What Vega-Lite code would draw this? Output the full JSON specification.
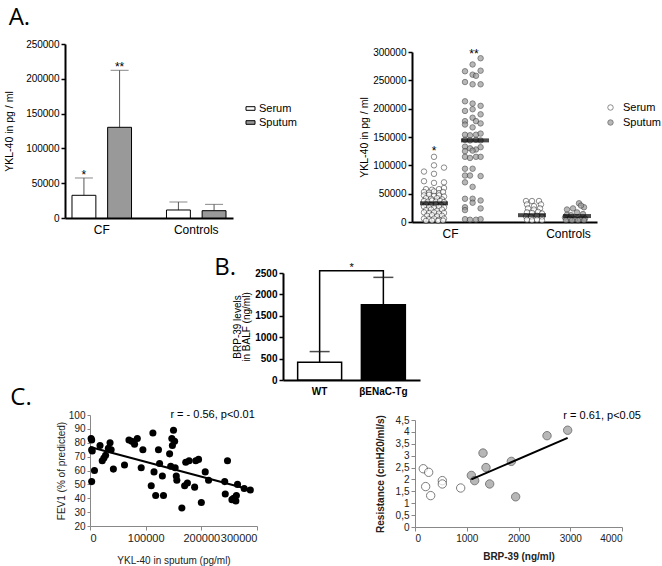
{
"$schema":"https://vega.github.io/schema/vega-lite/v6.json",
"padding":{"left":4,"top":6,"right":3,"bottom":2},
"background":"white",
"config":{"view":{"stroke":null},"font":"Liberation Sans","axis":{"grid":false,"labelOverlap":false,"tickCount":30,"labelFont":"Liberation Sans","titleFont":"Liberation Sans","titleFontWeight":"normal","labelColor":"black","titleColor":"black"},"legend":{"labelFont":"Liberation Sans"},"title":{"font":"Open Sans","fontWeight":"normal","fontSize":24,"anchor":"start","frame":"bounds","color":"black"}},
"spacing":17,
"align":"none",
"resolve":{"scale":{"fill":"independent"},"legend":{"fill":"independent"}},
"vconcat":[
{"hconcat":[
 {"title":{"text":"A.","offset":9,"dx":4},
  "width":168,"height":174,
  "data":{"values":[
   {"group":"CF","sample":"Serum","mean":32600,"upper":57500,"sig":"*"},
   {"group":"CF","sample":"Sputum","mean":130300,"upper":212200,"sig":"**"},
   {"group":"Controls","sample":"Serum","mean":11500,"upper":23000,"sig":""},
   {"group":"Controls","sample":"Sputum","mean":10500,"upper":19600,"sig":""}]},
  "encoding":{
   "x":{"field":"group","type":"nominal","sort":["CF","Controls"],"scale":{"paddingInner":0.37,"paddingOuter":0.074},"axis":{"title":null,"labelAngle":0,"ticks":false,"labelFontSize":12,"labelPadding":6,"domainColor":"black","domainWidth":2}},
   "xOffset":{"field":"sample","type":"nominal","sort":["Serum","Sputum"],"scale":{"paddingInner":0.33,"paddingOuter":0}}},
  "layer":[
   {"mark":{"type":"rule","color":"#555","strokeWidth":1},
    "encoding":{"y":{"field":"mean","type":"quantitative","scale":{"domain":[0,250000],"nice":false},"axis":{"title":"YKL-40 in pg / ml","titleFontSize":10.5,"titlePadding":11,"values":[0,50000,100000,150000,200000,250000],"tickCount":30,"format":"d","labelOverlap":false,"labelFontSize":10,"tickSize":4,"tickColor":"black","tickWidth":1.5,"domainColor":"black","domainWidth":2}},"y2":{"field":"upper"}}},
   {"mark":{"type":"tick","orient":"horizontal","color":"#555","thickness":1,"size":18},
    "encoding":{"y":{"field":"upper","type":"quantitative"}}},
   {"mark":{"type":"bar","stroke":"black","strokeWidth":1},
    "encoding":{"y":{"field":"mean","type":"quantitative"},
     "fill":{"field":"sample","type":"nominal","scale":{"domain":["Serum","Sputum"],"range":["white","#999999"]},
      "legend":{"title":null,"orient":"none","legendX":180,"legendY":59,"symbolType":"M-1,-0.4H1V0.4H-1Z","symbolSize":81,"symbolStrokeColor":"black","symbolStrokeWidth":1,"labelFontSize":11,"labelColor":"black","rowPadding":2,"labelOffset":3}}}},
   {"mark":{"type":"text","baseline":"alphabetic","dy":1,"fontSize":12,"color":"black"},
    "encoding":{"y":{"field":"upper","type":"quantitative"},"text":{"field":"sig"}}}
  ]},
 {"vconcat":[
  {"width":1,"height":1,"data":{"values":[]},"mark":"point"},
  {"width":185,"height":170,
  "layer":[
   {"data":{"values":[
    {"series":"Serum","xp":1.1,"v":115000},{"series":"Serum","xp":0.6,"v":89000},{"series":"Serum","xp":1.1,"v":100000},{"series":"Serum","xp":1.6,"v":96000},{"series":"Serum","xp":1.1,"v":85000},{"series":"Serum","xp":0.6,"v":72000},{"series":"Serum","xp":1.1,"v":69000},{"series":"Serum","xp":1.6,"v":70000},
    {"series":"Serum","xp":0.7,"v":58000},{"series":"Serum","xp":1.0,"v":57000},{"series":"Serum","xp":1.35,"v":58000},{"series":"Serum","xp":1.6,"v":60000},{"series":"Serum","xp":0.6,"v":53000},{"series":"Serum","xp":0.85,"v":52000},{"series":"Serum","xp":1.1,"v":54000},{"series":"Serum","xp":1.35,"v":51000},{"series":"Serum","xp":1.55,"v":53000},
    {"series":"Serum","xp":0.6,"v":47000},{"series":"Serum","xp":0.85,"v":48000},{"series":"Serum","xp":1.1,"v":46000},{"series":"Serum","xp":1.35,"v":47000},{"series":"Serum","xp":1.6,"v":45000},{"series":"Serum","xp":0.7,"v":42000},{"series":"Serum","xp":0.95,"v":41000},{"series":"Serum","xp":1.25,"v":42000},{"series":"Serum","xp":1.5,"v":40000},
    {"series":"Serum","xp":0.6,"v":37000},{"series":"Serum","xp":0.8,"v":36000},{"series":"Serum","xp":1.0,"v":38000},{"series":"Serum","xp":1.2,"v":36000},{"series":"Serum","xp":1.4,"v":37000},{"series":"Serum","xp":1.6,"v":35000},{"series":"Serum","xp":0.7,"v":31000},{"series":"Serum","xp":0.95,"v":30000},{"series":"Serum","xp":1.2,"v":31000},{"series":"Serum","xp":1.45,"v":30000},
    {"series":"Serum","xp":0.6,"v":27000},{"series":"Serum","xp":0.85,"v":26000},{"series":"Serum","xp":1.1,"v":25000},{"series":"Serum","xp":1.35,"v":27000},{"series":"Serum","xp":1.6,"v":26000},{"series":"Serum","xp":0.7,"v":21000},{"series":"Serum","xp":0.95,"v":22000},{"series":"Serum","xp":1.25,"v":20000},{"series":"Serum","xp":1.5,"v":22000},
    {"series":"Serum","xp":0.6,"v":17000},{"series":"Serum","xp":0.85,"v":16000},{"series":"Serum","xp":1.1,"v":17000},{"series":"Serum","xp":1.35,"v":15000},{"series":"Serum","xp":1.6,"v":16000},{"series":"Serum","xp":0.75,"v":11000},{"series":"Serum","xp":1.0,"v":12000},{"series":"Serum","xp":1.25,"v":10000},{"series":"Serum","xp":1.5,"v":11000},
    {"series":"Serum","xp":0.6,"v":6000},{"series":"Serum","xp":0.85,"v":5000},{"series":"Serum","xp":1.1,"v":6000},{"series":"Serum","xp":1.35,"v":4000},{"series":"Serum","xp":1.6,"v":6000},{"series":"Serum","xp":0.7,"v":2000},{"series":"Serum","xp":1.0,"v":2500},{"series":"Serum","xp":1.3,"v":2000},{"series":"Serum","xp":1.55,"v":2500},
    {"series":"Sputum","xp":3.43,"v":289000},{"series":"Sputum","xp":3.03,"v":278000},{"series":"Sputum","xp":2.65,"v":266000},{"series":"Sputum","xp":3.43,"v":267000},{"series":"Sputum","xp":3.03,"v":260000},{"series":"Sputum","xp":3.2,"v":258000},{"series":"Sputum","xp":2.65,"v":247000},{"series":"Sputum","xp":3.03,"v":243000},{"series":"Sputum","xp":3.43,"v":243000},
    {"series":"Sputum","xp":2.65,"v":213000},{"series":"Sputum","xp":3.03,"v":209000},{"series":"Sputum","xp":3.43,"v":205000},{"series":"Sputum","xp":2.65,"v":196000},{"series":"Sputum","xp":3.03,"v":199000},{"series":"Sputum","xp":3.43,"v":190000},{"series":"Sputum","xp":3.03,"v":184000},{"series":"Sputum","xp":2.65,"v":178000},{"series":"Sputum","xp":2.65,"v":172000},{"series":"Sputum","xp":3.2,"v":178000},{"series":"Sputum","xp":3.43,"v":174000},{"series":"Sputum","xp":3.03,"v":167000},
    {"series":"Sputum","xp":2.65,"v":154000},{"series":"Sputum","xp":2.9,"v":153000},{"series":"Sputum","xp":3.2,"v":154000},{"series":"Sputum","xp":3.43,"v":156000},{"series":"Sputum","xp":2.65,"v":145000},{"series":"Sputum","xp":2.9,"v":144000},{"series":"Sputum","xp":3.2,"v":145000},{"series":"Sputum","xp":3.43,"v":144000},
    {"series":"Sputum","xp":2.65,"v":133000},{"series":"Sputum","xp":2.9,"v":130000},{"series":"Sputum","xp":3.2,"v":128000},{"series":"Sputum","xp":3.43,"v":132000},{"series":"Sputum","xp":2.65,"v":125000},{"series":"Sputum","xp":3.03,"v":126000},{"series":"Sputum","xp":2.65,"v":115000},{"series":"Sputum","xp":2.9,"v":113000},{"series":"Sputum","xp":3.2,"v":115000},{"series":"Sputum","xp":3.43,"v":115000},
    {"series":"Sputum","xp":2.65,"v":94000},{"series":"Sputum","xp":3.03,"v":94000},{"series":"Sputum","xp":2.65,"v":82000},{"series":"Sputum","xp":2.9,"v":82000},{"series":"Sputum","xp":3.43,"v":81000},{"series":"Sputum","xp":2.65,"v":70000},{"series":"Sputum","xp":3.03,"v":62000},
    {"series":"Sputum","xp":2.65,"v":41000},{"series":"Sputum","xp":3.03,"v":41000},{"series":"Sputum","xp":3.43,"v":38000},{"series":"Sputum","xp":2.65,"v":26000},{"series":"Sputum","xp":2.65,"v":21000},{"series":"Sputum","xp":3.03,"v":34000},{"series":"Sputum","xp":3.43,"v":24000},
    {"series":"Sputum","xp":2.65,"v":5000},{"series":"Sputum","xp":2.9,"v":4000},{"series":"Sputum","xp":3.2,"v":4000},{"series":"Sputum","xp":3.43,"v":5000},
    {"series":"Serum","xp":5.7,"v":37000},{"series":"Serum","xp":6.0,"v":37000},{"series":"Serum","xp":6.35,"v":37000},{"series":"Serum","xp":5.75,"v":31000},{"series":"Serum","xp":6.1,"v":28000},{"series":"Serum","xp":6.45,"v":31000},{"series":"Serum","xp":5.8,"v":24000},{"series":"Serum","xp":6.1,"v":22000},{"series":"Serum","xp":6.4,"v":24000},
    {"series":"Serum","xp":5.75,"v":17000},{"series":"Serum","xp":6.0,"v":16000},{"series":"Serum","xp":6.3,"v":18000},{"series":"Serum","xp":6.5,"v":15000},{"series":"Serum","xp":5.7,"v":10000},{"series":"Serum","xp":5.95,"v":9000},{"series":"Serum","xp":6.25,"v":11000},{"series":"Serum","xp":6.5,"v":9000},{"series":"Serum","xp":5.75,"v":4000},{"series":"Serum","xp":6.0,"v":3000},{"series":"Serum","xp":6.25,"v":4000},{"series":"Serum","xp":6.5,"v":3000},
    {"series":"Sputum","xp":8.35,"v":33000},{"series":"Sputum","xp":8.6,"v":26000},{"series":"Sputum","xp":8.45,"v":29000},{"series":"Sputum","xp":7.75,"v":22000},{"series":"Sputum","xp":8.05,"v":24000},{"series":"Sputum","xp":8.25,"v":17000},{"series":"Sputum","xp":7.75,"v":13000},{"series":"Sputum","xp":7.95,"v":12000},{"series":"Sputum","xp":8.55,"v":14000},
    {"series":"Sputum","xp":7.65,"v":8000},{"series":"Sputum","xp":7.9,"v":6000},{"series":"Sputum","xp":8.15,"v":5000},{"series":"Sputum","xp":8.4,"v":5000},{"series":"Sputum","xp":8.65,"v":6000},{"series":"Sputum","xp":7.7,"v":3000},{"series":"Sputum","xp":8.0,"v":3000},{"series":"Sputum","xp":8.3,"v":3000},{"series":"Sputum","xp":8.6,"v":3000}]},
    "mark":{"type":"point","shape":"circle","filled":true,"size":30,"stroke":"#333","strokeWidth":0.8},
    "encoding":{
     "x":{"field":"xp","type":"quantitative","scale":{"domain":[0,9.25],"nice":false,"zero":false},"axis":{"title":null,"values":[1.9,7.8],"labelExpr":"datum.value < 5 ? 'CF' : 'Controls'","ticks":false,"labelFontSize":12,"labelPadding":6,"domainColor":"black","domainWidth":2}},
     "y":{"field":"v","type":"quantitative","scale":{"domain":[0,300000],"nice":false},"axis":{"title":"YKL-40 in pg / ml","titleFontSize":10.5,"titlePadding":3,"values":[0,50000,100000,150000,200000,250000,300000],"tickCount":30,"format":"d","labelOverlap":false,"labelFontSize":10,"tickSize":4,"tickColor":"black","tickWidth":1.5,"domainColor":"black","domainWidth":2}},
     "fill":{"field":"series","type":"nominal","scale":{"domain":["Serum","Sputum"],"range":["white","#999999"]},
      "legend":{"title":null,"orient":"none","legendX":193,"legendY":50,"symbolType":"circle","symbolSize":30,"symbolStrokeColor":"#333","symbolStrokeWidth":0.8,"labelFontSize":11,"labelColor":"black","rowPadding":3,"labelOffset":7}}}},
   {"data":{"values":[{"xp":1.1,"v":33000},{"xp":3.15,"v":144000},{"xp":6.0,"v":12000},{"xp":8.25,"v":10500}]},
    "mark":{"type":"tick","orient":"horizontal","color":"black","thickness":4,"size":28},
    "encoding":{"x":{"field":"xp","type":"quantitative"},"y":{"field":"v","type":"quantitative"}}},
   {"data":{"values":[{"xp":1.1,"v":130500,"sig":"*"},{"xp":3.1,"v":301000,"sig":"**"}]},
    "mark":{"type":"text","baseline":"alphabetic","dy":7,"fontSize":12,"color":"black"},
    "encoding":{"x":{"field":"xp","type":"quantitative"},"y":{"field":"v","type":"quantitative"},"text":{"field":"sig"}}}
  ]}
 ],"spacing":2,"align":"none","resolve":{"scale":{"fill":"independent"},"legend":{"fill":"independent"}}}
 ],"spacing":62,"align":"none","resolve":{"scale":{"fill":"independent"},"legend":{"fill":"independent"}}},
{"vconcat":[
 {"hconcat":[
  {"width":1,"height":1,"data":{"values":[]},"mark":"point"},
  {"title":{"text":"B.","offset":-18,"dx":-18},
   "width":137,"height":107,
   "layer":[
    {"data":{"values":[{"g":"WT","mean":414,"upper":664},{"g":"βENaC-Tg","mean":1758,"upper":2398}]},
     "encoding":{"x":{"field":"g","type":"nominal","sort":["WT","βENaC-Tg"],"scale":{"paddingInner":0.31,"paddingOuter":0.23},"axis":{"title":null,"labelAngle":0,"ticks":false,"labelFontSize":10,"labelFontWeight":"bold","labelPadding":6,"domainColor":"black","domainWidth":2}}},
     "layer":[
      {"mark":{"type":"rule","color":"black","strokeWidth":1.5},"encoding":{"y":{"field":"mean","type":"quantitative","scale":{"domain":[0,2500],"nice":false},"axis":{"title":["BRP-39 levels","in BALF (ng/ml)"],"titleFontSize":10,"titleLineHeight":9.5,"titlePadding":3,"values":[0,500,1000,1500,2000,2500],"tickCount":30,"format":"d","labelOverlap":false,"labelFontSize":10,"labelFontWeight":"bold","tickSize":4,"tickColor":"black","tickWidth":1.5,"domainColor":"black","domainWidth":2}},"y2":{"field":"upper"}}},
      {"mark":{"type":"tick","orient":"horizontal","color":"black","thickness":1.5,"size":20},"encoding":{"y":{"field":"upper","type":"quantitative"}}},
      {"mark":{"type":"bar","stroke":"black","strokeWidth":1.5},"encoding":{"y":{"field":"mean","type":"quantitative"},"fill":{"field":"g","type":"nominal","scale":{"domain":["WT","βENaC-Tg"],"range":["white","black"]},"legend":null}}}
     ]},
    {"data":{"values":[{"g":"WT","y":664,"k":1},{"g":"WT","y":2555,"k":2},{"g":"βENaC-Tg","y":2555,"k":3},{"g":"βENaC-Tg","y":2398,"k":4}]},
     "mark":{"type":"line","color":"black","strokeWidth":1.5},
     "encoding":{"x":{"field":"g","type":"nominal","sort":["WT","βENaC-Tg"]},"y":{"field":"y","type":"quantitative"},"order":{"field":"k"}}},
    {"data":{"values":[{"g":"WT","y":2704,"sig":"*"}]},
     "mark":{"type":"text","baseline":"alphabetic","dy":7,"dx":32,"fontSize":11,"color":"black"},
     "encoding":{"x":{"field":"g","type":"nominal","sort":["WT","βENaC-Tg"]},"y":{"field":"y","type":"quantitative"},"text":{"field":"sig"}}}
   ]}
 ],"spacing":148,"align":"none","resolve":{"scale":{"fill":"independent"},"legend":{"fill":"independent"}}},
 {"hconcat":[
  {"width":1,"height":1,"data":{"values":[]},"mark":"point"},
  {"hconcat":[
  {"title":{"text":"C.","offset":-1,"dx":-46},
   "width":167,"height":111,
   "layer":[
    {"data":{"values":[
     {"ykl":2000,"fev":83},{"ykl":3000,"fev":82},{"ykl":3000,"fev":75},{"ykl":4000,"fev":74},{"ykl":3000,"fev":52},{"ykl":8000,"fev":60},
     {"ykl":18000,"fev":78},{"ykl":22000,"fev":67},{"ykl":25000,"fev":69},{"ykl":28000,"fev":71},{"ykl":33000,"fev":76},{"ykl":36000,"fev":80},{"ykl":38000,"fev":75},{"ykl":42000,"fev":61},
     {"ykl":62000,"fev":64},{"ykl":70000,"fev":82},{"ykl":75000,"fev":81},{"ykl":80000,"fev":79},{"ykl":85000,"fev":83},{"ykl":92000,"fev":62},{"ykl":95000,"fev":75},
     {"ykl":110000,"fev":49},{"ykl":113000,"fev":87},{"ykl":115000,"fev":59},{"ykl":118000,"fev":42},{"ykl":123000,"fev":75},{"ykl":125000,"fev":65},{"ykl":130000,"fev":56},{"ykl":132000,"fev":42},
     {"ykl":143000,"fev":72},{"ykl":145000,"fev":63},{"ykl":147000,"fev":83},{"ykl":148000,"fev":78},{"ykl":150000,"fev":89},{"ykl":152000,"fev":81},{"ykl":153000,"fev":62},{"ykl":155000,"fev":56},{"ykl":156000,"fev":53},
     {"ykl":165000,"fev":33},{"ykl":170000,"fev":49},{"ykl":172000,"fev":66},{"ykl":175000,"fev":51},{"ykl":178000,"fev":67},{"ykl":188000,"fev":48},{"ykl":190000,"fev":67},{"ykl":195000,"fev":68},{"ykl":200000,"fev":37},{"ykl":207000,"fev":59},{"ykl":213000,"fev":53},
     {"ykl":242000,"fev":52},{"ykl":243000,"fev":43},{"ykl":247000,"fev":67},{"ykl":255000,"fev":39},{"ykl":258000,"fev":40},{"ykl":262000,"fev":38},{"ykl":263000,"fev":42},{"ykl":265000,"fev":50},{"ykl":277000,"fev":47},{"ykl":288000,"fev":46}]},
     "mark":{"type":"circle","color":"black","opacity":1,"size":50},
     "encoding":{
      "x":{"field":"ykl","type":"quantitative","scale":{"domain":[0,300000],"nice":false},"axis":{"title":"YKL-40 in sputum (pg/ml)","titleFontSize":10,"titlePadding":12,"titleColor":"#222","values":[0,100000,200000,300000],"tickCount":30,"format":"d","labelOverlap":false,"labelFontSize":11,"labelColor":"#222","tickSize":4,"tickColor":"#888","domainColor":"#888"}},
      "y":{"field":"fev","type":"quantitative","scale":{"domain":[20,100],"nice":false,"zero":false},"axis":{"title":"FEV1 (% of predicted)","titleFontSize":10,"titlePadding":2,"titleColor":"#222","values":[20,30,40,50,60,70,80,90,100],"tickCount":30,"labelOverlap":false,"labelFontSize":10,"labelColor":"#222","tickSize":3,"tickColor":"#888","domainColor":"#888"}}}},
    {"data":{"values":[{"x1":0,"y1":77,"x2":285000,"y2":46.5}]},
     "mark":{"type":"rule","color":"black","strokeWidth":2},
     "encoding":{"x":{"field":"x1","type":"quantitative"},"y":{"field":"y1","type":"quantitative"},"x2":{"field":"x2"},"y2":{"field":"y2"}}},
    {"data":{"values":[{"x":296000,"y":100,"label":"r = - 0.56, p<0.01"}]},
     "mark":{"type":"text","align":"right","baseline":"middle","fontSize":11,"color":"black"},
     "encoding":{"x":{"field":"x","type":"quantitative"},"y":{"field":"y","type":"quantitative"},"text":{"field":"label"}}}
   ]},
  {"vconcat":[
   {"width":1,"height":1,"data":{"values":[]},"mark":"point"},
   {"width":207,"height":107,
   "layer":[
    {"data":{"values":[
     {"brp":160,"res":2.45,"genotype":"WT"},{"brp":264,"res":2.3,"genotype":"WT"},{"brp":206,"res":1.7,"genotype":"WT"},{"brp":303,"res":1.32,"genotype":"WT"},{"brp":528,"res":1.95,"genotype":"WT"},{"brp":528,"res":1.81,"genotype":"WT"},{"brp":883,"res":1.64,"genotype":"WT"},
     {"brp":1089,"res":2.17,"genotype":"βENaC-Tg"},{"brp":1153,"res":1.95,"genotype":"βENaC-Tg"},{"brp":1314,"res":3.11,"genotype":"βENaC-Tg"},{"brp":1372,"res":2.5,"genotype":"βENaC-Tg"},{"brp":1443,"res":1.81,"genotype":"βENaC-Tg"},{"brp":1861,"res":2.76,"genotype":"βENaC-Tg"},{"brp":1945,"res":1.27,"genotype":"βENaC-Tg"},{"brp":2551,"res":3.84,"genotype":"βENaC-Tg"},{"brp":2950,"res":4.07,"genotype":"βENaC-Tg"}]},
     "mark":{"type":"point","shape":"circle","filled":true,"size":70,"stroke":"#444","strokeWidth":1},
     "encoding":{
      "x":{"field":"brp","type":"quantitative","scale":{"domain":[0,4000],"nice":false},"axis":{"title":"BRP-39 (ng/ml)","titleFontSize":10,"titleFontWeight":"bold","titlePadding":8,"titleColor":"#222","values":[0,1000,2000,3000,4000],"tickCount":30,"format":"d","labelOverlap":false,"labelFontSize":10,"labelColor":"#222","tickSize":4,"tickColor":"#888","domainColor":"#888"}},
      "y":{"field":"res","type":"quantitative","scale":{"domain":[0,4.5],"nice":false},"axis":{"title":"Resistance (cmH20/ml/s)","titleFontSize":10,"titleFontWeight":"bold","titlePadding":10,"titleColor":"#222","values":[0,0.5,1,1.5,2,2.5,3,3.5,4,4.5],"tickCount":30,"format":".1~f","labelExpr":"replace(datum.label, '.', ',')","labelOverlap":false,"labelFontSize":10,"labelColor":"#222","tickSize":4,"tickColor":"#888","domainColor":"#888"}},
      "fill":{"field":"genotype","type":"nominal","scale":{"domain":["WT","βENaC-Tg"],"range":["white","#999999"]},"legend":null}}},
    {"data":{"values":[{"x1":1089,"y1":2.0,"x2":2950,"y2":3.75}]},
     "mark":{"type":"rule","color":"black","strokeWidth":2},
     "encoding":{"x":{"field":"x1","type":"quantitative"},"y":{"field":"y1","type":"quantitative"},"x2":{"field":"x2"},"y2":{"field":"y2"}}},
    {"data":{"values":[{"x":4367,"y":4.67,"label":"r = 0.61, p<0.05"}]},
     "mark":{"type":"text","align":"right","baseline":"middle","fontSize":11,"color":"black"},
     "encoding":{"x":{"field":"x","type":"quantitative"},"y":{"field":"y","type":"quantitative"},"text":{"field":"label"}}}
   ]}
  ],"spacing":-7,"align":"none","resolve":{"scale":{"fill":"independent"},"legend":{"fill":"independent"}}}
  ],"spacing":117,"align":"none","resolve":{"scale":{"fill":"independent"},"legend":{"fill":"independent"}}}
 ],"spacing":-56,"align":"none","resolve":{"scale":{"fill":"independent"},"legend":{"fill":"independent"}}}
],"spacing":-10,"align":"none","resolve":{"scale":{"fill":"independent"},"legend":{"fill":"independent"}}}
]
}
